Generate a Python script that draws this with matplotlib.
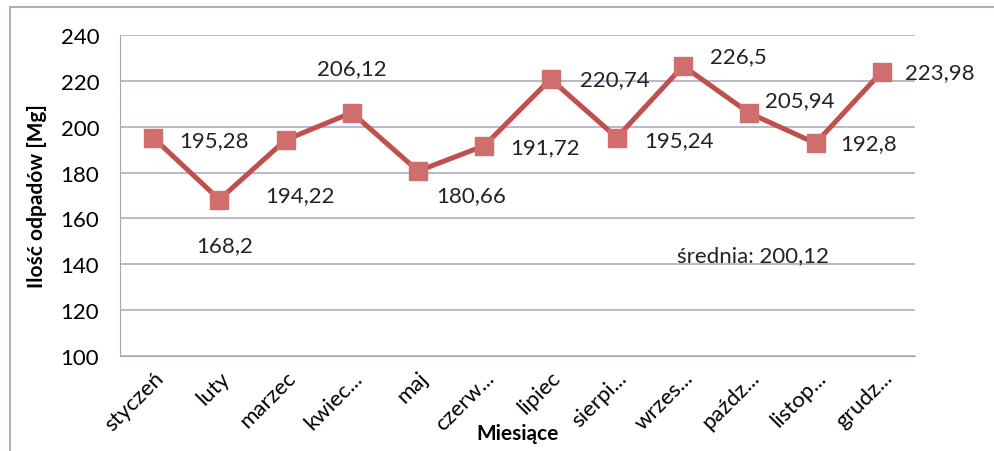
import matplotlib.pyplot as plt
from matplotlib.patches import Rectangle

plt.rcParams['font.family'] = ['Lato', 'DejaVu Sans']

months = ['styczeń', 'luty', 'marzec', 'kwiec...', 'maj', 'czerw...', 'lipiec',
          'sierpi...', 'wrzes...', 'paźdz...', 'listop...', 'grudz...']
values = [195.28, 168.2, 194.22, 206.12, 180.66, 191.72, 220.74,
          195.24, 226.5, 205.94, 192.8, 223.98]
value_labels = ['195,28', '168,2', '194,22', '206,12', '180,66', '191,72', '220,74',
                '195,24', '226,5', '205,94', '192,8', '223,98']
mean_label = 'średnia: 200,12'
yticks = [100, 120, 140, 160, 180, 200, 220, 240]

# label offsets in points, (dx, dy) from each marker
offsets = [(44, -2), (4, -33), (10, -40), (0, 32), (38, -17), (44, -1),
           (46, 0), (45, -2), (40, 7), (36, 9), (38, 0), (42, 0)]

line_col = '#C0504D'
mark_col = '#CF6E6C'
grid_col = '#A7A3BC'

fig = plt.figure(figsize=(9.94, 4.52), dpi=100)
ax = fig.add_axes([0.1207, 0.2102, 0.7998, 0.7102])

x = list(range(len(months)))
ax.plot(x, values, color=line_col, lw=3.6, marker='s', ms=13,
        mfc=mark_col, mec=mark_col, zorder=3)

for i, (v, t) in enumerate(zip(values, value_labels)):
    ax.annotate(t, (i, v), xytext=offsets[i], textcoords='offset points',
                ha='center', va='center', fontsize=16, color='#222222')

ax.text(9.05, 144, mean_label, ha='center', va='center', fontsize=16, color='#222222')

ax.set_xlim(-0.5, len(months) - 0.5)
ax.set_ylim(100, 240)
ax.set_yticks(yticks)
ax.set_xticks(x)
ax.set_xticklabels(months, rotation=45, ha='right', rotation_mode='anchor', fontsize=16)
ax.tick_params(axis='y', labelsize=16, length=0, pad=15)
ax.tick_params(axis='x', length=0, pad=8)
ax.grid(axis='y', color=grid_col, lw=1.1)
ax.set_axisbelow(True)
for s in ['top', 'right']:
    ax.spines[s].set_visible(False)
ax.spines['left'].set_color(grid_col)
ax.spines['bottom'].set_color(grid_col)

ax.set_ylabel('Ilość odpadów [Mg]', fontsize=15, fontweight='bold', labelpad=10)
ax.set_xlabel('Miesiące', fontsize=15, fontweight='bold', labelpad=-8)

fig.patches.append(Rectangle((0.01, -0.1), 1.1, 1.082, transform=fig.transFigure,
                             fill=False, edgecolor='#9D9BC0', lw=1.2))

fig.savefig('out.png', dpi=100)
